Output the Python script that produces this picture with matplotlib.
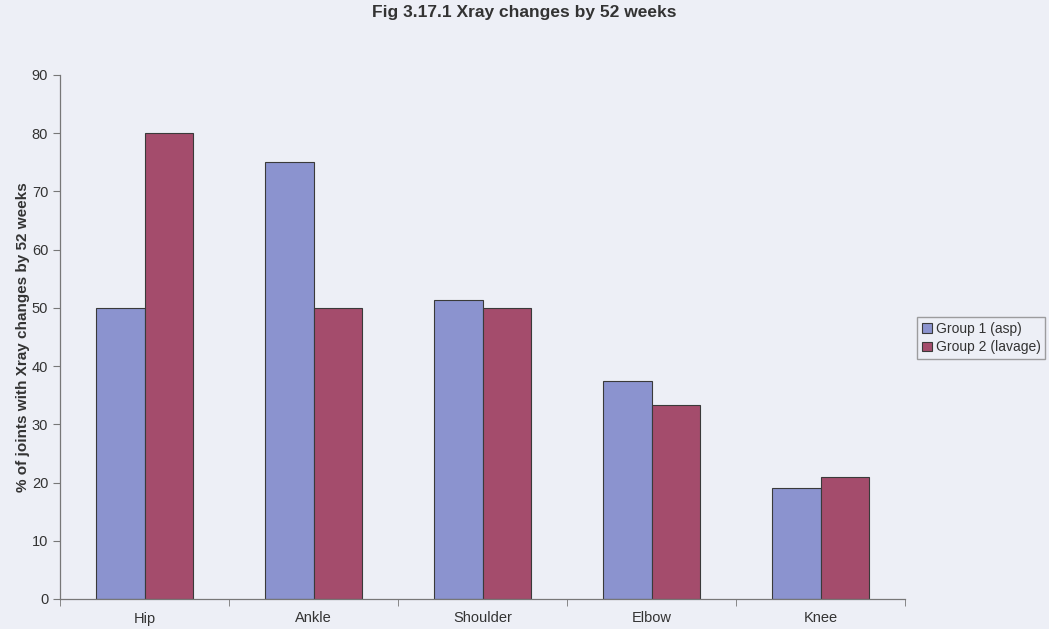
import numpy as np
import matplotlib.pyplot as plt

plt.rcParams['font.family'] = ['Liberation Sans', 'DejaVu Sans']

joints = ['Hip', 'Ankle', 'Shoulder', 'Elbow', 'Knee']
group1 = [50, 75, 51.3, 37.5, 19]   # Group 1 (asp)
group2 = [80, 50, 50, 33.3, 21]     # Group 2 (lavage)
series_names = ['Group 1 (asp)', 'Group 2 (lavage)']

bg = '#edeff6'
fig = plt.figure(figsize=(10.49, 6.29), dpi=100, facecolor=bg)
ax = fig.add_axes([60/1049, 1 - 599/629, 845/1049, 524/629], facecolor=bg)

x = np.arange(len(joints))
w = 1 / 3.5
ax.bar(x - w/2, group1, w, color='#8b93cf', edgecolor='#3a3a3a', linewidth=0.8,
       label=series_names[0])
ax.bar(x + w/2, group2, w, color='#a44c6c', edgecolor='#3a3a3a', linewidth=0.8,
       label=series_names[1])

ax.set_xlim(-0.5, len(joints) - 0.5)
ax.set_ylim(0, 90)
ax.set_yticks(np.arange(0, 91, 10))
ax.set_xticks(x)
ax.set_xticklabels(joints)
ax.set_xticks(np.arange(-0.5, len(joints)), minor=True)
ax.tick_params(axis='x', which='major', length=0, pad=9, labelsize=10.5, colors='#333333')
ax.tick_params(axis='x', which='minor', length=5, color='#777777', direction='out')
ax.tick_params(axis='y', length=5, color='#777777', labelsize=10.5, colors='#333333')
for s in ['top', 'right']:
    ax.spines[s].set_visible(False)
for s in ['left', 'bottom']:
    ax.spines[s].set_color('#777777')
    ax.spines[s].set_linewidth(0.9)

ax.set_ylabel('% of joints with Xray changes by 52 weeks', fontsize=11,
              fontweight='bold', color='#333333', labelpad=1)
fig.text(0.5, 1 - 13/629, 'Fig 3.17.1 Xray changes by 52 weeks', ha='center',
         va='center', fontsize=12.5, fontweight='bold', color='#333333')

leg = ax.legend(loc='center left', bbox_to_anchor=(917/1049, 1 - 338/629),
                bbox_transform=fig.transFigure, fontsize=10, frameon=True,
                fancybox=False, edgecolor='#888888', facecolor=bg,
                handlelength=0.7, handleheight=0.7, handletextpad=0.3,
                borderpad=0.35, labelspacing=0.35, borderaxespad=0)
for t in leg.get_texts():
    t.set_color('#333333')

fig.savefig('out.png', dpi=100, facecolor=bg)
